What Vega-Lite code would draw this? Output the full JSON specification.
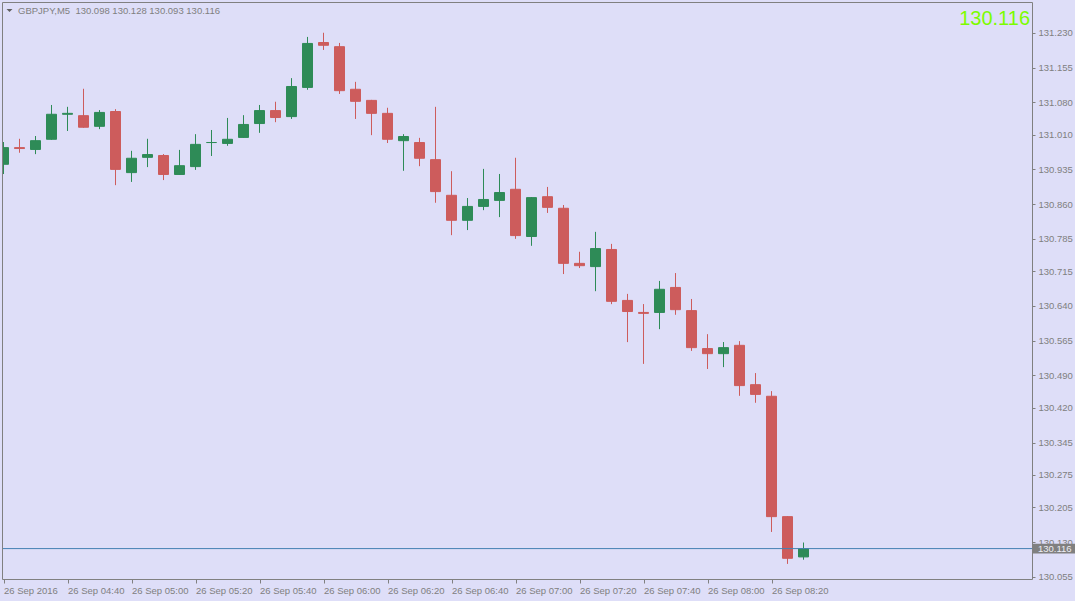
{
  "$schema": "https://vega.github.io/schema/vega-lite/v6.json",
  "width": 1030,
  "height": 577,
  "autosize": {"type": "none"},
  "padding": {"left": 2, "top": 2, "right": 43, "bottom": 22},
  "background": "#dedef8",
  "config": {
    "view": {"stroke": null},
    "font": "Liberation Sans",
    "axis": {"grid": false, "title": null, "domainColor": "#808080", "tickColor": "#808080", "labelColor": "#808080", "labelFont": "Liberation Sans", "labelFontSize": 9.5}
  },
  "data": {
    "values": [
      {"t": "2016-09-26T04:20:00Z", "open": 130.946, "high": 130.993, "low": 130.926, "close": 130.982},
      {"t": "2016-09-26T04:25:00Z", "open": 130.982, "high": 131.000, "low": 130.972, "close": 130.980},
      {"t": "2016-09-26T04:30:00Z", "open": 130.978, "high": 131.006, "low": 130.969, "close": 130.997},
      {"t": "2016-09-26T04:35:00Z", "open": 131.000, "high": 131.073, "low": 131.000, "close": 131.054},
      {"t": "2016-09-26T04:40:00Z", "open": 131.054, "high": 131.069, "low": 131.019, "close": 131.056},
      {"t": "2016-09-26T04:45:00Z", "open": 131.051, "high": 131.108, "low": 131.026, "close": 131.026},
      {"t": "2016-09-26T04:50:00Z", "open": 131.028, "high": 131.062, "low": 131.023, "close": 131.058},
      {"t": "2016-09-26T04:55:00Z", "open": 131.060, "high": 131.064, "low": 130.902, "close": 130.935},
      {"t": "2016-09-26T05:00:00Z", "open": 130.928, "high": 130.974, "low": 130.909, "close": 130.959},
      {"t": "2016-09-26T05:05:00Z", "open": 130.961, "high": 131.000, "low": 130.941, "close": 130.967},
      {"t": "2016-09-26T05:10:00Z", "open": 130.965, "high": 130.967, "low": 130.913, "close": 130.924},
      {"t": "2016-09-26T05:15:00Z", "open": 130.924, "high": 130.976, "low": 130.924, "close": 130.943},
      {"t": "2016-09-26T05:20:00Z", "open": 130.941, "high": 131.010, "low": 130.935, "close": 130.989},
      {"t": "2016-09-26T05:25:00Z", "open": 130.993, "high": 131.019, "low": 130.965, "close": 130.993},
      {"t": "2016-09-26T05:30:00Z", "open": 130.991, "high": 131.045, "low": 130.987, "close": 131.000},
      {"t": "2016-09-26T05:35:00Z", "open": 131.004, "high": 131.051, "low": 131.004, "close": 131.032},
      {"t": "2016-09-26T05:40:00Z", "open": 131.034, "high": 131.073, "low": 131.015, "close": 131.062},
      {"t": "2016-09-26T05:45:00Z", "open": 131.062, "high": 131.080, "low": 131.038, "close": 131.047},
      {"t": "2016-09-26T05:50:00Z", "open": 131.049, "high": 131.131, "low": 131.045, "close": 131.114},
      {"t": "2016-09-26T05:55:00Z", "open": 131.112, "high": 131.220, "low": 131.108, "close": 131.207},
      {"t": "2016-09-26T06:00:00Z", "open": 131.209, "high": 131.229, "low": 131.194, "close": 131.203},
      {"t": "2016-09-26T06:05:00Z", "open": 131.200, "high": 131.207, "low": 131.099, "close": 131.105},
      {"t": "2016-09-26T06:10:00Z", "open": 131.108, "high": 131.123, "low": 131.045, "close": 131.082},
      {"t": "2016-09-26T06:15:00Z", "open": 131.084, "high": 131.084, "low": 131.010, "close": 131.056},
      {"t": "2016-09-26T06:20:00Z", "open": 131.056, "high": 131.067, "low": 130.993, "close": 131.000},
      {"t": "2016-09-26T06:25:00Z", "open": 130.997, "high": 131.010, "low": 130.933, "close": 131.006},
      {"t": "2016-09-26T06:30:00Z", "open": 130.993, "high": 131.002, "low": 130.943, "close": 130.959},
      {"t": "2016-09-26T06:35:00Z", "open": 130.956, "high": 131.069, "low": 130.864, "close": 130.887},
      {"t": "2016-09-26T06:40:00Z", "open": 130.879, "high": 130.930, "low": 130.794, "close": 130.825},
      {"t": "2016-09-26T06:45:00Z", "open": 130.825, "high": 130.872, "low": 130.805, "close": 130.855},
      {"t": "2016-09-26T06:50:00Z", "open": 130.855, "high": 130.935, "low": 130.848, "close": 130.870},
      {"t": "2016-09-26T06:55:00Z", "open": 130.868, "high": 130.924, "low": 130.833, "close": 130.885},
      {"t": "2016-09-26T07:00:00Z", "open": 130.892, "high": 130.959, "low": 130.786, "close": 130.792},
      {"t": "2016-09-26T07:05:00Z", "open": 130.790, "high": 130.874, "low": 130.771, "close": 130.874},
      {"t": "2016-09-26T07:10:00Z", "open": 130.876, "high": 130.896, "low": 130.842, "close": 130.853},
      {"t": "2016-09-26T07:15:00Z", "open": 130.851, "high": 130.857, "low": 130.710, "close": 130.732},
      {"t": "2016-09-26T07:20:00Z", "open": 130.732, "high": 130.756, "low": 130.723, "close": 130.727},
      {"t": "2016-09-26T07:25:00Z", "open": 130.725, "high": 130.799, "low": 130.673, "close": 130.764},
      {"t": "2016-09-26T07:30:00Z", "open": 130.762, "high": 130.773, "low": 130.645, "close": 130.650},
      {"t": "2016-09-26T07:35:00Z", "open": 130.652, "high": 130.665, "low": 130.563, "close": 130.628},
      {"t": "2016-09-26T07:40:00Z", "open": 130.626, "high": 130.643, "low": 130.516, "close": 130.624},
      {"t": "2016-09-26T07:45:00Z", "open": 130.626, "high": 130.693, "low": 130.591, "close": 130.676},
      {"t": "2016-09-26T07:50:00Z", "open": 130.680, "high": 130.710, "low": 130.622, "close": 130.632},
      {"t": "2016-09-26T07:55:00Z", "open": 130.630, "high": 130.654, "low": 130.544, "close": 130.550},
      {"t": "2016-09-26T08:00:00Z", "open": 130.548, "high": 130.578, "low": 130.505, "close": 130.537},
      {"t": "2016-09-26T08:05:00Z", "open": 130.537, "high": 130.561, "low": 130.509, "close": 130.550},
      {"t": "2016-09-26T08:10:00Z", "open": 130.555, "high": 130.563, "low": 130.447, "close": 130.468},
      {"t": "2016-09-26T08:15:00Z", "open": 130.470, "high": 130.494, "low": 130.432, "close": 130.449},
      {"t": "2016-09-26T08:20:00Z", "open": 130.445, "high": 130.455, "low": 130.153, "close": 130.185},
      {"t": "2016-09-26T08:25:00Z", "open": 130.185, "high": 130.185, "low": 130.084, "close": 130.095},
      {"t": "2016-09-26T08:30:00Z", "open": 130.098, "high": 130.128, "low": 130.093, "close": 130.116}
    ]
  },
  "resolve": {"axis": {"x": "independent", "y": "independent"}},
  "layer": [
    {
      "mark": {"type": "rule", "strokeWidth": 1, "strokeCap": "square", "clip": true},
      "encoding": {
        "x": {
          "field": "t", "type": "temporal",
          "scale": {"type": "utc", "domain": [1474863571875, 1474882884375], "nice": false, "padding": 0},
          "axis": {
            "orient": "bottom", "zindex": 0,
            "values": [1474863600000, 1474864800000, 1474866000000, 1474867200000, 1474868400000, 1474869600000, 1474870800000, 1474872000000, 1474873200000, 1474874400000, 1474875600000, 1474876800000, 1474878000000],
            "labelExpr": "datum.index == 0 ? '26 Sep 2016' : utcFormat(datum.value, '%d %b %H:%M')",
            "tickSize": 4, "labelAlign": "left", "labelBaseline": "top", "labelPadding": 2, "labelDx": -1,
            "labelOverlap": false, "labelFlush": false, "labelBound": false
          }
        },
        "y": {
          "field": "low", "type": "quantitative",
          "scale": {"domain": [130.0503, 131.2965], "zero": false, "nice": false, "padding": 0},
          "axis": {
            "orient": "right", "zindex": 0,
            "values": [131.23, 131.155, 131.08, 131.01, 130.935, 130.86, 130.785, 130.715, 130.64, 130.565, 130.49, 130.42, 130.345, 130.275, 130.205, 130.13, 130.055],
            "format": ".3f", "tickSize": 3, "labelPadding": 3, "labelAlign": "left", "labelBaseline": "middle",
            "labelOverlap": false, "labelFlush": false, "labelBound": false
          }
        },
        "y2": {"field": "high"},
        "color": {"condition": {"test": "datum.close >= datum.open", "value": "#2e8b57"}, "value": "#cd5c5c"}
      }
    },
    {
      "mark": {"type": "bar", "size": 10, "strokeWidth": 1, "clip": true},
      "encoding": {
        "x": {
          "field": "t", "type": "temporal",
          "scale": {"type": "utc", "domain": [1474863571875, 1474882884375], "nice": false, "padding": 0},
          "axis": {"orient": "top", "labels": false, "ticks": false, "zindex": 1}
        },
        "y": {
          "field": "open", "type": "quantitative",
          "scale": {"domain": [130.0503, 131.2965], "zero": false, "nice": false, "padding": 0},
          "axis": {"orient": "left", "labels": false, "ticks": false, "zindex": 1}
        },
        "y2": {"field": "close"},
        "color": {"condition": {"test": "datum.close >= datum.open", "value": "#2e8b57"}, "value": "#cd5c5c"},
        "stroke": {"condition": {"test": "datum.close >= datum.open", "value": "#2e8b57"}, "value": "#cd5c5c"}
      }
    },
    {
      "data": {"values": [{"price": 130.116}]},
      "mark": {"type": "rule", "color": "#4682b4", "strokeWidth": 1},
      "encoding": {
        "y": {"field": "price", "type": "quantitative", "axis": null}
      }
    },
    {
      "data": {"values": [{"price": 130.116}]},
      "mark": {"type": "rect", "color": "#808080", "clip": false},
      "encoding": {
        "x": {"datum": 1474882884375, "type": "temporal", "axis": null},
        "x2": {"datum": 1474883700000},
        "y": {"datum": 130.1265, "type": "quantitative", "axis": null},
        "y2": {"datum": 130.1055}
      }
    },
    {
      "data": {"values": [{"price": 130.116, "label": "130.116"}]},
      "mark": {"type": "text", "color": "#eeeef4", "fontSize": 9.5, "font": "Liberation Sans", "align": "left", "baseline": "middle", "dx": 6, "clip": false},
      "encoding": {
        "x": {"datum": 1474882884375, "type": "temporal", "axis": null},
        "y": {"field": "price", "type": "quantitative", "axis": null},
        "text": {"field": "label"}
      }
    },
    {
      "data": {"values": [{"label": "130.116"}]},
      "mark": {"type": "text", "color": "#7cfc00", "fontSize": 20, "font": "Liberation Sans", "align": "right", "baseline": "middle", "dx": -2},
      "encoding": {
        "x": {"datum": 1474882884375, "type": "temporal", "axis": null},
        "y": {"datum": 131.2598, "type": "quantitative", "axis": null},
        "text": {"field": "label"}
      }
    },
    {
      "data": {"values": [{"label": "GBPJPY,M5\u00a0 130.098 130.128 130.093 130.116"}]},
      "mark": {"type": "text", "color": "#808080", "fontSize": 9.5, "font": "Liberation Sans", "align": "left", "baseline": "middle", "dx": 16},
      "encoding": {
        "x": {"datum": 1474863571875, "type": "temporal", "axis": null},
        "y": {"datum": 131.2771, "type": "quantitative", "axis": null},
        "text": {"field": "label"}
      }
    },
    {
      "data": {"values": [{"label": "menu"}]},
      "mark": {"type": "point", "shape": "M-1,-0.5L1,-0.5L0,0.5Z", "filled": true, "size": 36, "color": "#606060", "opacity": 1, "xOffset": 7.5},
      "encoding": {
        "x": {"datum": 1474863571875, "type": "temporal", "axis": null},
        "y": {"datum": 131.2782, "type": "quantitative", "axis": null}
      }
    }
  ]
}
